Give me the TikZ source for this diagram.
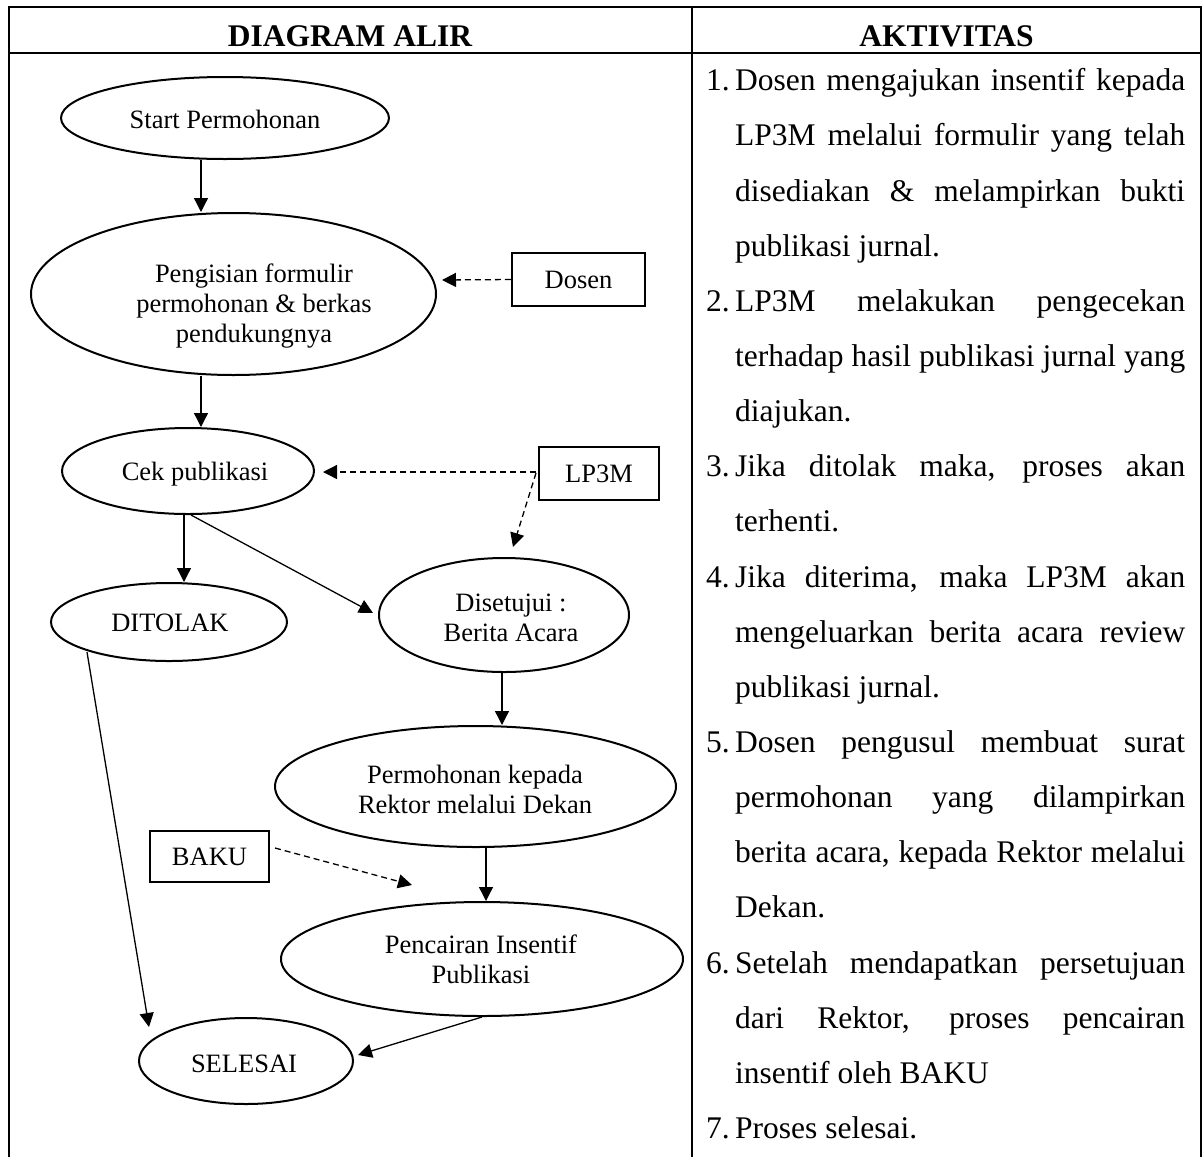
\documentclass[tikz,border=0pt]{standalone}
\usepackage{fontspec}
\setmainfont{Liberation Serif}
\usetikzlibrary{arrows.meta,shapes.geometric}
\tolerance=9999
\hyphenpenalty=10000
\begin{document}
\begin{tikzpicture}[x=1pt,y=-1pt,
  oval/.style={ellipse,draw,line width=2pt,inner sep=0pt},
  actorbox/.style={rectangle,draw,line width=2.2pt,inner sep=0pt,font=\fontsize{26.5}{30}\selectfont},
  flowtext/.style={anchor=base,align=center,inner sep=0pt,font=\fontsize{26.5}{30}\selectfont},
  arr/.style={line width=1.3pt,-{Triangle[length=14pt,width=14pt]}},
  darr/.style={arr,dash pattern=on 6pt off 4pt},
  rule/.style={line width=2pt,line join=miter},
  headtext/.style={anchor=base,inner sep=0pt,font=\bfseries\fontsize{31.5}{38}\selectfont},
  numtext/.style={anchor=base west,inner sep=0pt,font=\fontsize{31.5}{55.15}\selectfont},
  itemtext/.style={anchor=base west,inner sep=0pt,text width=450pt,align=justify,font=\fontsize{31.5}{55.15}\selectfont}
]
\useasboundingbox (0,0) rectangle (1204,1157);
% table
\draw[rule] (9,1157) -- (9,7) -- (1201,7) -- (1201,1157);
\draw[rule] (9,52.5) -- (1201,52.5);
\draw[rule] (692,7) -- (692,1157);
\node[headtext] (h1) at (350,46) {DIAGRAM ALIR};
\node[headtext] (h2) at (946.5,46) {AKTIVITAS};
% flowchart shapes
\node[oval,minimum width=328pt,minimum height=82pt] (start) at (225,118) {};
\node[oval,minimum width=405pt,minimum height=162pt] (isi) at (233.5,294) {};
\node[oval,minimum width=252pt,minimum height=86pt] (cek) at (188,471) {};
\node[oval,minimum width=236pt,minimum height=78pt] (ditolak) at (169,622) {};
\node[oval,minimum width=250pt,minimum height=114pt] (setuju) at (504,615) {};
\node[oval,minimum width=401pt,minimum height=121pt] (mohon) at (475.5,786.5) {};
\node[oval,minimum width=402pt,minimum height=114pt] (cair) at (482,959) {};
\node[oval,minimum width=214pt,minimum height=86pt] (selesai) at (246,1061) {};
\node[actorbox,minimum width=133pt,minimum height=53pt] (dosen) at (578.5,279.5) {Dosen};
\node[actorbox,minimum width=120pt,minimum height=53pt] (lp3m) at (599,473.5) {LP3M};
\node[actorbox,minimum width=119pt,minimum height=51pt] (baku) at (209.5,856.5) {BAKU};
% flowchart texts (base = baseline of last line)
\node[flowtext] (start-t) at (225,128) {Start Permohonan};
\node[flowtext] (isi-t) at (254,342) {Pengisian formulir\\permohonan \& berkas\\pendukungnya};
\node[flowtext] (cek-t) at (195,480) {Cek publikasi};
\node[flowtext] (ditolak-t) at (170,631.5) {DITOLAK};
\node[flowtext] (setuju-t) at (511,641) {Disetujui :\\Berita Acara};
\node[flowtext] (mohon-t) at (475,813) {Permohonan kepada\\Rektor melalui Dekan};
\node[flowtext] (cair-t) at (481,983) {Pencairan Insentif\\Publikasi};
\node[flowtext] (selesai-t) at (244,1072) {SELESAI};
% solid connectors
\draw[arr] ([shift={(-24,42)}]start.center) -- ([shift={(-32.5,-82)}]isi.center);
\draw[arr] ([shift={(-32.5,82)}]isi.center) -- ([shift={(13,-44)}]cek.center);
\draw[arr] ([shift={(-4,44)}]cek.center) -- ([shift={(15,-40)}]ditolak.center);
\draw[arr] ([shift={(3,44)}]cek.center) -- ([shift={(-131,-2)}]setuju.center);
\draw[arr] ([shift={(-2,58)}]setuju.center) -- ([shift={(26.5,-61.5)}]mohon.center);
\draw[arr] ([shift={(10.5,61.5)}]mohon.center) -- ([shift={(4,-58)}]cair.center);
\draw[arr] ([shift={(-82,30)}]ditolak.center) -- ([shift={(-97,-34)}]selesai.center);
\draw[arr] ([shift={(0,58)}]cair.center) -- ([shift={(112,-6)}]selesai.center);
% dashed connectors
\draw[darr] (dosen.west) -- ([shift={(208.5,-14)}]isi.center);
\draw[darr] ([shift={(-63,-1.5)}]lp3m.center) -- ([shift={(135,1)}]cek.center);
\draw[darr] ([shift={(-63,-0.5)}]lp3m.center) -- ([shift={(9,-68)}]setuju.center);
\draw[darr] ([shift={(65.5,-8.5)}]baku.center) -- ([shift={(-70,-74)}]cair.center);
% activities
\node[numtext] (n1) at (706,90.7) {1.};
\node[itemtext] (p1) at (735,90.7) {Dosen mengajukan insentif kepada\linebreak LP3M melalui formulir yang telah\linebreak disediakan \& melampirkan bukti\linebreak publikasi jurnal.};
\node[numtext] (n2) at (706,311.3) {2.};
\node[itemtext] (p2) at (735,311.3) {LP3M melakukan pengecekan\linebreak terhadap hasil publikasi jurnal yang\linebreak diajukan.};
\node[numtext] (n3) at (706,476.75) {3.};
\node[itemtext] (p3) at (735,476.75) {Jika ditolak maka, proses akan\linebreak terhenti.};
\node[numtext] (n4) at (706,587.05) {4.};
\node[itemtext] (p4) at (735,587.05) {Jika diterima, maka LP3M akan\linebreak mengeluarkan berita acara review\linebreak publikasi jurnal.};
\node[numtext] (n5) at (706,752.5) {5.};
\node[itemtext] (p5) at (735,752.5) {Dosen pengusul membuat surat\linebreak permohonan yang dilampirkan\linebreak berita acara, kepada Rektor melalui\linebreak Dekan.};
\node[numtext] (n6) at (706,973.1) {6.};
\node[itemtext] (p6) at (735,973.1) {Setelah mendapatkan persetujuan\linebreak dari Rektor, proses pencairan\linebreak insentif oleh BAKU};
\node[numtext] (n7) at (706,1138.55) {7.};
\node[itemtext] (p7) at (735,1138.55) {Proses selesai.};
\end{tikzpicture}
\end{document}
